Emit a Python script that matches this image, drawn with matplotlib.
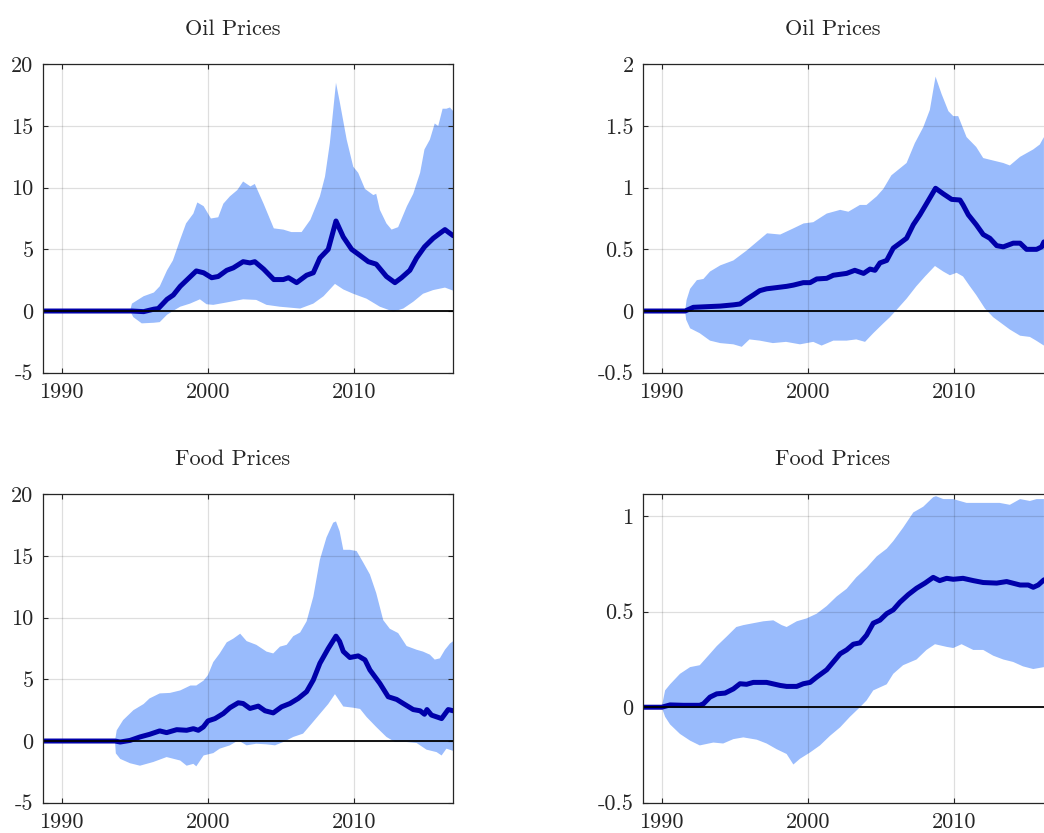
import numpy as np
import matplotlib
matplotlib.use("Agg")
import matplotlib.pyplot as plt

plt.rcParams.update({
    "font.family": "serif",
    "font.serif": ["cmr10", "DejaVu Serif"],
    "mathtext.fontset": "cm",
    "axes.unicode_minus": False,
    "axes.formatter.use_mathtext": True,
})

# ---------------- data: (year, value) pairs ----------------
# Oil prices, left column (level scale)
oil_a_upper = np.array([
    [1988.75, 0.0], [1994.67, 0.0], [1994.8, 0.6], [1995.6, 1.2], [1996.3, 1.5],
    [1996.7, 2.0], [1997.2, 3.3], [1997.6, 4.1], [1998.1, 5.8], [1998.5, 7.1],
    [1999.0, 7.9], [1999.27, 8.8], [1999.7, 8.5], [2000.2, 7.5], [2000.7, 7.6],
    [2001.05, 8.7], [2001.5, 9.3], [2002.0, 9.8], [2002.4, 10.5], [2002.9, 10.1],
    [2003.2, 10.3], [2003.8, 8.7], [2004.5, 6.7], [2005.15, 6.6], [2005.7, 6.4],
    [2006.4, 6.4], [2007.0, 7.4], [2007.65, 9.3], [2008.0, 10.9], [2008.33, 13.6],
    [2008.75, 18.5], [2009.0, 17.0], [2009.48, 13.9], [2009.93, 11.7], [2010.27, 11.2],
    [2010.73, 9.9], [2011.3, 9.4], [2011.5, 9.5], [2011.75, 8.2], [2012.2, 7.1],
    [2012.55, 6.6], [2013.0, 6.8], [2013.6, 8.5], [2014.03, 9.5], [2014.5, 11.2],
    [2014.8, 13.1], [2015.17, 13.9], [2015.5, 15.2], [2015.74, 15.0], [2016.04, 16.4],
    [2016.3, 16.4], [2016.54, 16.5], [2016.77, 16.2],
])
oil_a_lower = np.array([
    [1988.75, 0.0], [1994.67, 0.0], [1994.9, -0.5], [1995.47, -1.0], [1996.3, -0.95],
    [1996.7, -0.9], [1997.2, -0.3], [1997.6, 0.0], [1998.1, 0.35], [1998.77, 0.6],
    [1999.45, 0.95], [1999.9, 0.55], [2000.36, 0.5], [2001.3, 0.7], [2002.4, 0.95],
    [2003.3, 0.9], [2004.0, 0.5], [2004.9, 0.35], [2006.3, 0.2], [2007.2, 0.6],
    [2007.9, 1.2], [2008.68, 2.2], [2009.25, 1.75], [2009.93, 1.4], [2010.84, 1.0],
    [2011.75, 0.35], [2012.67, -0.05], [2013.35, 0.2], [2014.03, 0.75], [2014.7, 1.4],
    [2015.4, 1.7], [2016.2, 1.9], [2016.77, 1.65],
])
oil_a_median = np.array([
    [1988.75, 0.0], [1994.8, 0.0], [1995.6, -0.05], [1996.3, 0.15], [1996.6, 0.2],
    [1997.2, 0.95], [1997.63, 1.3], [1998.1, 2.0], [1998.54, 2.5], [1999.2, 3.25],
    [1999.7, 3.1], [2000.25, 2.7], [2000.7, 2.8], [2001.28, 3.3], [2001.73, 3.5],
    [2002.4, 4.0], [2002.87, 3.9], [2003.2, 4.0], [2003.8, 3.4], [2004.5, 2.55],
    [2005.15, 2.55], [2005.5, 2.7], [2006.06, 2.3], [2006.74, 2.9], [2007.2, 3.1],
    [2007.65, 4.3], [2008.22, 5.0], [2008.75, 7.3], [2009.25, 6.0], [2009.82, 5.0],
    [2010.4, 4.5], [2010.96, 4.0], [2011.5, 3.8], [2012.2, 2.8], [2012.78, 2.3],
    [2013.23, 2.7], [2013.8, 3.3], [2014.26, 4.3], [2014.8, 5.2], [2015.4, 5.9],
    [2015.85, 6.3], [2016.2, 6.6], [2016.42, 6.4], [2016.77, 6.1],
])

# Oil prices, right column
oil_b_upper = np.array([
    [1988.75, 0.0], [1991.6, 0.0], [1991.7, 0.09], [1991.94, 0.18], [1992.4, 0.25],
    [1992.85, 0.26], [1993.3, 0.32], [1994.0, 0.37], [1994.9, 0.41], [1995.8, 0.49],
    [1996.7, 0.58], [1997.2, 0.63], [1998.1, 0.62], [1999.0, 0.67], [1999.7, 0.71],
    [2000.36, 0.72], [2001.28, 0.79], [2002.2, 0.82], [2002.76, 0.805], [2003.55, 0.86],
    [2004.0, 0.86], [2004.7, 0.93], [2005.15, 0.99], [2005.7, 1.10], [2006.74, 1.2],
    [2007.3, 1.36], [2007.88, 1.49], [2008.33, 1.63], [2008.72, 1.90], [2009.13, 1.76],
    [2009.6, 1.62], [2009.93, 1.58], [2010.27, 1.58], [2010.84, 1.41], [2011.5, 1.33],
    [2011.98, 1.24], [2012.66, 1.22], [2013.35, 1.2], [2013.8, 1.18], [2014.5, 1.25],
    [2015.4, 1.31], [2015.85, 1.35], [2016.13, 1.41],
])
oil_b_lower = np.array([
    [1988.75, 0.0], [1991.6, 0.0], [1991.67, -0.07], [1991.94, -0.14], [1992.6, -0.18],
    [1993.3, -0.24], [1994.0, -0.26], [1994.9, -0.27], [1995.47, -0.29], [1996.0, -0.23],
    [1996.7, -0.24], [1997.6, -0.26], [1998.5, -0.25], [1999.45, -0.27], [2000.36, -0.25],
    [2000.93, -0.28], [2001.73, -0.24], [2002.64, -0.24], [2003.3, -0.23], [2003.9, -0.25],
    [2004.46, -0.18], [2005.15, -0.10], [2005.6, -0.05], [2006.06, 0.01], [2006.74, 0.10],
    [2007.4, 0.2], [2008.0, 0.28], [2008.68, 0.365], [2009.25, 0.32], [2009.7, 0.29],
    [2010.16, 0.31], [2010.6, 0.28], [2011.07, 0.2], [2011.5, 0.13], [2012.1, 0.02],
    [2012.66, -0.05], [2013.23, -0.1], [2013.8, -0.15], [2014.5, -0.2], [2015.17, -0.21],
    [2015.6, -0.24], [2016.13, -0.28],
])
oil_b_median = np.array([
    [1988.75, 0.0], [1991.6, 0.0], [1992.16, 0.03], [1993.07, 0.035], [1994.0, 0.04],
    [1994.9, 0.05], [1995.35, 0.057], [1995.8, 0.095], [1996.26, 0.13], [1996.7, 0.165],
    [1997.17, 0.18], [1997.86, 0.19], [1998.54, 0.2], [1999.0, 0.21], [1999.68, 0.23],
    [2000.14, 0.23], [2000.6, 0.26], [2001.28, 0.265], [2001.73, 0.29], [2002.64, 0.305],
    [2003.2, 0.33], [2003.8, 0.305], [2004.24, 0.34], [2004.58, 0.33], [2004.92, 0.39],
    [2005.38, 0.41], [2005.83, 0.51], [2006.29, 0.55], [2006.74, 0.59], [2007.2, 0.70],
    [2007.65, 0.78], [2008.1, 0.87], [2008.72, 0.995], [2009.25, 0.95], [2009.82, 0.905],
    [2010.39, 0.9], [2010.6, 0.86], [2010.96, 0.78], [2011.5, 0.70], [2011.98, 0.62],
    [2012.43, 0.59], [2012.9, 0.53], [2013.35, 0.52], [2014.03, 0.55], [2014.5, 0.55],
    [2014.94, 0.50], [2015.63, 0.50], [2015.97, 0.52], [2016.13, 0.56],
])

# Food prices, left column
food_a_upper = np.array([
    [1988.75, 0.0], [1993.64, 0.0], [1993.76, 0.87], [1994.2, 1.7], [1994.9, 2.5],
    [1995.6, 3.0], [1996.0, 3.45], [1996.7, 3.86], [1997.4, 3.9], [1998.1, 4.1],
    [1998.8, 4.5], [1999.2, 4.5], [1999.7, 4.9], [2000.0, 5.35], [2000.36, 6.4],
    [2000.8, 7.1], [2001.28, 8.0], [2001.73, 8.3], [2002.2, 8.7], [2002.64, 8.1],
    [2003.3, 7.8], [2004.0, 7.25], [2004.46, 7.1], [2004.92, 7.65], [2005.38, 7.8],
    [2005.83, 8.5], [2006.3, 8.8], [2006.74, 9.7], [2007.2, 11.7], [2007.65, 14.7],
    [2008.1, 16.5], [2008.56, 17.7], [2008.75, 17.8], [2009.0, 17.0], [2009.25, 15.5],
    [2009.7, 15.5], [2010.16, 15.4], [2010.6, 14.5], [2011.07, 13.5], [2011.5, 12.0],
    [2011.98, 9.8], [2012.43, 9.1], [2013.0, 8.75], [2013.58, 7.7], [2014.26, 7.4],
    [2014.7, 7.25], [2015.17, 7.0], [2015.5, 6.6], [2015.85, 6.7], [2016.2, 7.4],
    [2016.54, 7.9], [2016.77, 8.1],
])
food_a_lower = np.array([
    [1988.75, 0.0], [1993.64, 0.0], [1993.7, -1.0], [1994.0, -1.45], [1994.67, -1.8],
    [1995.35, -2.0], [1996.26, -1.7], [1997.17, -1.3], [1998.1, -1.58], [1998.54, -2.0],
    [1999.0, -1.85], [1999.2, -2.05], [1999.7, -1.17], [2000.36, -0.98], [2000.8, -0.62],
    [2001.5, -0.35], [2002.07, 0.05], [2002.64, -0.35], [2003.3, -0.22], [2004.0, -0.27],
    [2004.58, -0.35], [2005.15, -0.08], [2005.83, 0.33], [2006.5, 0.6], [2007.08, 1.4],
    [2007.65, 2.2], [2008.22, 3.0], [2008.68, 3.8], [2009.25, 2.8], [2009.93, 2.7],
    [2010.4, 2.6], [2010.84, 1.95], [2011.5, 1.14], [2012.2, 0.33], [2012.78, -0.08],
    [2013.58, -0.08], [2014.26, -0.16], [2014.94, -0.7], [2015.63, -0.9], [2015.97, -1.17],
    [2016.3, -0.62], [2016.77, -0.8],
])
food_a_median = np.array([
    [1988.75, 0.0], [1993.64, 0.0], [1994.0, -0.08], [1994.67, 0.05], [1995.35, 0.33],
    [1996.0, 0.54], [1996.7, 0.82], [1997.17, 0.68], [1997.86, 0.92], [1998.54, 0.87],
    [1999.0, 1.0], [1999.34, 0.87], [1999.68, 1.14], [2000.0, 1.63], [2000.48, 1.82],
    [2001.05, 2.23], [2001.5, 2.7], [2002.07, 3.1], [2002.4, 3.04], [2002.87, 2.64],
    [2003.44, 2.83], [2003.9, 2.45], [2004.46, 2.28], [2005.03, 2.77], [2005.6, 3.04],
    [2006.17, 3.45], [2006.74, 4.0], [2007.2, 4.95], [2007.65, 6.3], [2008.22, 7.5],
    [2008.75, 8.5], [2009.0, 8.07], [2009.25, 7.26], [2009.7, 6.77], [2010.27, 6.9],
    [2010.73, 6.58], [2011.07, 5.76], [2011.75, 4.67], [2012.32, 3.59], [2012.9, 3.37],
    [2013.35, 3.04], [2014.03, 2.55], [2014.5, 2.45], [2014.8, 2.17], [2014.97, 2.55],
    [2015.28, 2.1], [2015.97, 1.82], [2016.42, 2.55], [2016.77, 2.45],
])

# Food prices, right column
food_b_upper = np.array([
    [1988.75, 0.0], [1990.0, 0.0], [1990.23, 0.088], [1990.57, 0.12], [1991.25, 0.175],
    [1991.94, 0.21], [1992.6, 0.22], [1993.3, 0.28], [1993.76, 0.32], [1994.44, 0.37],
    [1995.1, 0.42], [1995.58, 0.43], [1996.26, 0.44], [1996.95, 0.45], [1997.63, 0.455],
    [1998.2, 0.43], [1998.54, 0.42], [1999.23, 0.45], [1999.9, 0.465], [2000.6, 0.49],
    [2001.28, 0.53], [2001.96, 0.58], [2002.64, 0.62], [2003.3, 0.68], [2004.0, 0.73],
    [2004.7, 0.79], [2005.38, 0.83], [2005.83, 0.87], [2006.5, 0.94], [2007.2, 1.02],
    [2007.88, 1.05], [2008.56, 1.10], [2008.75, 1.105], [2009.25, 1.09], [2009.93, 1.09],
    [2010.84, 1.07], [2011.98, 1.07], [2013.1, 1.07], [2013.8, 1.06], [2014.5, 1.09],
    [2015.17, 1.08], [2015.63, 1.09], [2016.13, 1.09],
])
food_b_lower = np.array([
    [1988.75, 0.0], [1990.0, 0.0], [1990.23, -0.05], [1990.57, -0.09], [1991.25, -0.14],
    [1991.94, -0.175], [1992.6, -0.2], [1993.53, -0.185], [1994.2, -0.19], [1994.9, -0.167],
    [1995.58, -0.158], [1996.5, -0.17], [1997.17, -0.19], [1997.86, -0.22], [1998.54, -0.245],
    [1999.0, -0.3], [1999.45, -0.27], [2000.14, -0.237], [2000.82, -0.2], [2001.5, -0.15],
    [2002.2, -0.105], [2002.87, -0.05], [2003.55, 0.0], [2004.0, 0.035], [2004.46, 0.088],
    [2005.38, 0.12], [2005.83, 0.175], [2006.5, 0.22], [2007.42, 0.25], [2008.1, 0.3],
    [2008.68, 0.33], [2009.48, 0.316], [2009.93, 0.31], [2010.5, 0.33], [2011.3, 0.3],
    [2011.98, 0.3], [2012.66, 0.27], [2013.35, 0.25], [2014.03, 0.237], [2014.7, 0.214],
    [2015.4, 0.2], [2016.13, 0.21],
])
food_b_median = np.array([
    [1988.75, 0.0], [1990.0, 0.0], [1990.57, 0.012], [1991.48, 0.01], [1992.6, 0.01],
    [1992.85, 0.018], [1993.3, 0.053], [1993.76, 0.07], [1994.33, 0.074], [1994.9, 0.096],
    [1995.35, 0.123], [1995.8, 0.12], [1996.26, 0.13], [1997.17, 0.13], [1998.1, 0.114],
    [1998.54, 0.109], [1999.23, 0.109], [1999.68, 0.123], [2000.14, 0.13], [2000.6, 0.158],
    [2001.28, 0.196], [2001.73, 0.237], [2002.2, 0.28], [2002.64, 0.3], [2003.1, 0.33],
    [2003.55, 0.337], [2004.0, 0.377], [2004.46, 0.44], [2004.92, 0.456], [2005.38, 0.49],
    [2005.83, 0.51], [2006.29, 0.55], [2006.86, 0.59], [2007.42, 0.623], [2008.0, 0.65],
    [2008.56, 0.68], [2009.0, 0.663], [2009.48, 0.675], [2009.93, 0.67], [2010.6, 0.675],
    [2011.3, 0.663], [2011.98, 0.653], [2012.9, 0.65], [2013.58, 0.658], [2014.5, 0.64],
    [2015.06, 0.64], [2015.4, 0.628], [2015.74, 0.64], [2016.13, 0.667],
])

titles = ["Oil Prices", "Oil Prices", "Food Prices", "Food Prices"]
year_ticks = [1990, 2000, 2010]
y_ticks = [
    [-5, 0, 5, 10, 15, 20],
    [-0.5, 0, 0.5, 1, 1.5, 2],
    [-5, 0, 5, 10, 15, 20],
    [-0.5, 0, 0.5, 1],
]
y_tick_labels = [
    ["-5", "0", "5", "10", "15", "20"],
    ["-0.5", "0", "0.5", "1", "1.5", "2"],
    ["-5", "0", "5", "10", "15", "20"],
    ["-0.5", "0", "0.5", "1"],
]
y_limits = [(-5, 20), (-0.5, 2), (-5, 20), (-0.5, 1.115)]
panels = [
    (oil_a_upper, oil_a_lower, oil_a_median),
    (oil_b_upper, oil_b_lower, oil_b_median),
    (food_a_upper, food_a_lower, food_a_median),
    (food_b_upper, food_b_lower, food_b_median),
]

# ---------------- styling ----------------
W, H = 1044, 833
BAND = "#99bbfc"
LINE = "#0000aa"
INK = "#262626"

fig = plt.figure(figsize=(W / 100, H / 100), dpi=100)

ax_w = 409.7 / W
ax_h = 308.4 / H
lefts = [43.3 / W, 643.3 / W, 43.3 / W, 643.3 / W]
bottoms = [1 - 372.7 / H, 1 - 372.7 / H, 1 - 802.7 / H, 1 - 802.7 / H]

for i, (upper, lower, median) in enumerate(panels):
    ax = fig.add_axes([lefts[i], bottoms[i], ax_w, ax_h])
    poly_x = np.concatenate([upper[:, 0], lower[::-1, 0]])
    poly_y = np.concatenate([upper[:, 1], lower[::-1, 1]])
    ax.fill(poly_x, poly_y, color=BAND, lw=0, zorder=1)
    ax.plot(median[:, 0], median[:, 1], color=LINE, lw=3.6,
            solid_joinstyle="round", solid_capstyle="round", zorder=3)
    ax.axhline(0, color="black", lw=1.3, zorder=4)

    ax.set_xlim(1988.74, 2016.75)
    ax.set_ylim(*y_limits[i])
    ax.set_xticks(year_ticks)
    ax.set_xticklabels([str(y) for y in year_ticks])
    ax.set_yticks(y_ticks[i])
    ax.set_yticklabels(y_tick_labels[i])

    # translucent grid drawn over the band
    ax.grid(True, color="black", alpha=0.13, lw=0.9, zorder=2)
    ax.set_axisbelow(False)
    for gl in ax.get_xgridlines() + ax.get_ygridlines():
        gl.set_zorder(2)
    ax.tick_params(direction="in", length=3.5, width=0.8, top=True, right=True,
                   labelsize=16, colors=INK, pad=7)
    for s in ax.spines.values():
        s.set_color(INK)
        s.set_linewidth(0.9)
        s.set_zorder(5)
    ax.set_title(titles[i], fontsize=16, color=INK, x=0.463, pad=21)

fig.savefig("out.png", dpi=100)
